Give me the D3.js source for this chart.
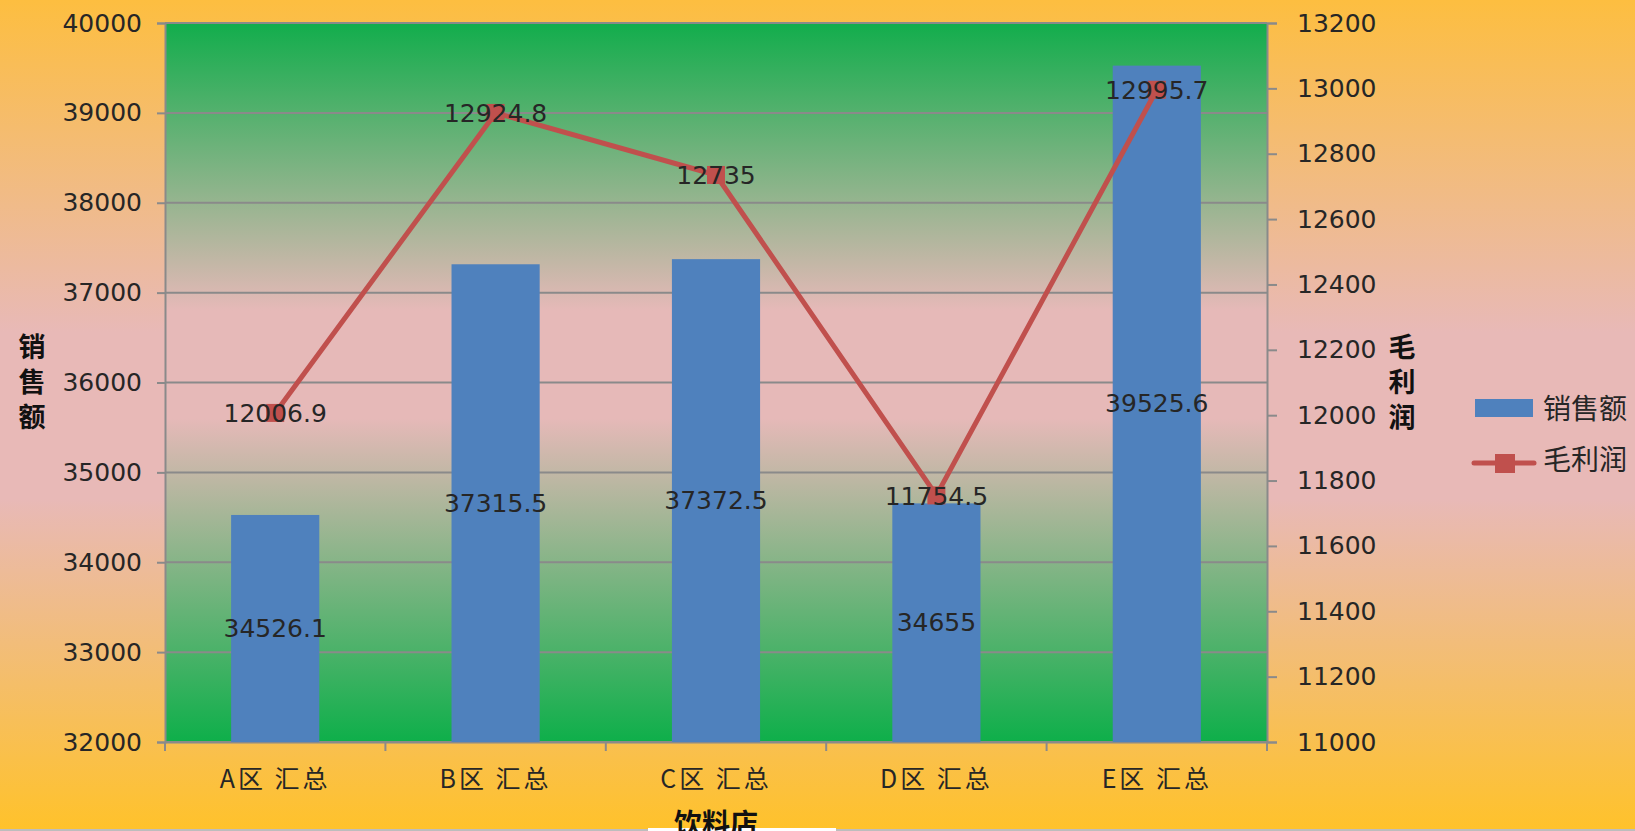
<!DOCTYPE html>
<html>
<head>
<meta charset="utf-8">
<script src="https://cdn.jsdelivr.net/npm/d3@7"></script>
<style>
  body { margin: 0; padding: 0; overflow: hidden; }
  text { font-family: "Noto Sans CJK SC", "Liberation Sans", sans-serif; fill: #262626; }
  .num { font-family: "DejaVu Sans", "Liberation Sans", sans-serif; }
</style>
</head>
<body>
<div id="chart"></div>
<script>
var categories = ["A区 汇总", "B区 汇总", "C区 汇总", "D区 汇总", "E区 汇总"];
var sales = [34526.1, 37315.5, 37372.5, 34655, 39525.6];
var profit = [12006.9, 12924.8, 12735, 11754.5, 12995.7];
var salesTicks = [32000, 33000, 34000, 35000, 36000, 37000, 38000, 39000, 40000];
var profitTicks = [11000, 11200, 11400, 11600, 11800, 12000, 12200, 12400, 12600, 12800, 13000, 13200];

var width = 1635, height = 831;
var margin = {top: 23, left: 165, bottom: 89, right: 368};

var barColor = "#4f81bd", lineColor = "#c0504d", gridColor = "#8a8a8a";

var svg = d3.select("#chart").append("svg")
  .attr("width", width)
  .attr("height", height);

var defs = svg.append("defs");

var bg = defs.append("linearGradient").attr("id", "bg")
  .attr("x1", 0).attr("y1", 0).attr("x2", 0).attr("y2", 1);
bg.append("stop").attr("offset", "0").attr("stop-color", "#fdbe40");
bg.append("stop").attr("offset", "0.4").attr("stop-color", "#e8b9b7");
bg.append("stop").attr("offset", "0.6").attr("stop-color", "#e8b9b7");
bg.append("stop").attr("offset", "1").attr("stop-color", "#ffc22a");

var pg = defs.append("linearGradient").attr("id", "plotbg")
  .attr("x1", 0).attr("y1", 0).attr("x2", 0).attr("y2", 1);
pg.append("stop").attr("offset", "0").attr("stop-color", "#12ad4c");
pg.append("stop").attr("offset", "0.4").attr("stop-color", "#e6b9b8");
pg.append("stop").attr("offset", "0.55").attr("stop-color", "#e6b9b8");
pg.append("stop").attr("offset", "1").attr("stop-color", "#0eaf4a");

svg.append("rect")
  .attr("width", width)
  .attr("height", height)
  .attr("fill", "url(#bg)");

var x = d3.scaleBand()
  .domain(categories)
  .range([margin.left, width - margin.right]);

var y = d3.scaleLinear()
  .domain([32000, 40000])
  .range([height - margin.bottom, margin.top]);

var y2 = d3.scaleLinear()
  .domain([11000, 13200])
  .range([height - margin.bottom, margin.top]);

// plot area
svg.append("rect")
  .attr("x", margin.left)
  .attr("y", margin.top)
  .attr("width", width - margin.left - margin.right)
  .attr("height", height - margin.top - margin.bottom)
  .attr("fill", "url(#plotbg)");

// gridlines
svg.append("g")
  .selectAll("line").data(salesTicks)
  .enter().append("line")
  .attr("x1", margin.left)
  .attr("x2", width - margin.right)
  .attr("y1", function(d) { return y(d); })
  .attr("y2", function(d) { return y(d); })
  .attr("stroke", gridColor)
  .attr("stroke-width", 2);

// left axis
var leftAxis = svg.append("g")
  .attr("transform", "translate(" + margin.left + ",0)")
  .call(d3.axisLeft(y).tickValues(salesTicks).tickFormat(d3.format("d")).tickSize(8).tickPadding(15));
leftAxis.selectAll("text").attr("class", "num").style("font-size", "25px").style("fill", "#262626");

// right axis
var rightAxis = svg.append("g")
  .attr("transform", "translate(" + (width - margin.right) + ",0)")
  .call(d3.axisRight(y2).tickValues(profitTicks).tickFormat(d3.format("d")).tickSize(10).tickPadding(20));
rightAxis.selectAll("text").attr("class", "num").style("font-size", "25px").style("fill", "#262626");

// bottom axis
var bottomAxis = svg.append("g")
  .attr("transform", "translate(0," + (height - margin.bottom) + ")")
  .call(d3.axisBottom(x).tickSize(0).tickPadding(28));
bottomAxis.selectAll("text")
  .style("font-size", "25px")
  .style("letter-spacing", "3px")
  .style("fill", "#262626");
bottomAxis.append("g").selectAll("line")
  .data(categories.concat([null]))
  .enter().append("line")
  .attr("x1", function(d, i) { return margin.left + i * x.bandwidth(); })
  .attr("x2", function(d, i) { return margin.left + i * x.bandwidth(); })
  .attr("y1", 0)
  .attr("y2", 9)
  .attr("stroke", gridColor)
  .attr("stroke-width", 2);

svg.selectAll(".domain").attr("stroke", gridColor).attr("stroke-width", 2);
svg.selectAll(".tick line").attr("stroke", gridColor).attr("stroke-width", 2);

// bars
var barW = x.bandwidth() * 0.4;
svg.append("g").selectAll("rect")
  .data(sales)
  .enter().append("rect")
  .attr("x", function(d, i) { return x(categories[i]) + (x.bandwidth() - barW) / 2; })
  .attr("y", function(d) { return y(d); })
  .attr("width", barW)
  .attr("height", function(d) { return y(32000) - y(d); })
  .attr("fill", barColor);

// line
var line = d3.line()
  .x(function(d, i) { return x(categories[i]) + x.bandwidth() / 2; })
  .y(function(d) { return y2(d); });

svg.append("path")
  .datum(profit)
  .attr("d", line)
  .attr("fill", "none")
  .attr("stroke", lineColor)
  .attr("stroke-width", 5)
  .attr("stroke-linejoin", "round");

svg.append("g").selectAll("rect")
  .data(profit)
  .enter().append("rect")
  .attr("x", function(d, i) { return x(categories[i]) + x.bandwidth() / 2 - 9; })
  .attr("y", function(d) { return y2(d) - 9; })
  .attr("width", 18)
  .attr("height", 18)
  .attr("fill", lineColor);

// data labels
svg.append("g").selectAll("text")
  .data(sales)
  .enter().append("text")
  .attr("class", "num")
  .attr("x", function(d, i) { return x(categories[i]) + x.bandwidth() / 2; })
  .attr("y", function(d) { return (y(d) + y(32000)) / 2; })
  .attr("text-anchor", "middle")
  .attr("dominant-baseline", "central")
  .style("font-size", "25px")
  .text(function(d) { return d; });

svg.append("g").selectAll("text")
  .data(profit)
  .enter().append("text")
  .attr("class", "num")
  .attr("x", function(d, i) { return x(categories[i]) + x.bandwidth() / 2; })
  .attr("y", function(d) { return y2(d) + 1; })
  .attr("text-anchor", "middle")
  .attr("dominant-baseline", "central")
  .style("font-size", "25px")
  .text(function(d) { return d; });

// axis titles, stacked vertically
function vtitle(str, cx) {
  svg.append("text")
    .attr("x", cx)
    .attr("y", 333)
    .style("writing-mode", "vertical-rl")
    .style("font-size", "27px")
    .style("font-weight", "bold")
    .style("letter-spacing", "8px")
    .style("fill", "#111")
    .text(str);
}
vtitle("销售额", 32);
vtitle("毛利润", 1402);

// bottom strip and x title
svg.append("rect")
  .attr("x", 0).attr("y", 829)
  .attr("width", width).attr("height", 2)
  .attr("fill", "#bdbdbd");
svg.append("rect")
  .attr("x", 648).attr("y", 828)
  .attr("width", 188).attr("height", 3)
  .attr("fill", "#ffffff");

svg.append("text")
  .attr("x", (margin.left + width - margin.right) / 2)
  .attr("y", 834)
  .attr("text-anchor", "middle")
  .style("font-size", "28px")
  .style("font-weight", "bold")
  .style("fill", "#111")
  .text("饮料店");

// legend
var legend = svg.append("g").attr("class", "legend");
legend.append("rect")
  .attr("x", 1475).attr("y", 399)
  .attr("width", 58).attr("height", 18)
  .attr("fill", barColor);
legend.append("text")
  .attr("x", 1543).attr("y", 407)
  .attr("dominant-baseline", "central")
  .style("font-size", "28px")
  .text("销售额");
legend.append("line")
  .attr("x1", 1474).attr("x2", 1534)
  .attr("y1", 463).attr("y2", 463)
  .attr("stroke", lineColor)
  .attr("stroke-width", 5)
  .attr("stroke-linecap", "round");
legend.append("rect")
  .attr("x", 1495).attr("y", 454)
  .attr("width", 20).attr("height", 19)
  .attr("fill", lineColor);
legend.append("text")
  .attr("x", 1543).attr("y", 458)
  .attr("dominant-baseline", "central")
  .style("font-size", "28px")
  .text("毛利润");
</script>
</body>
</html>
